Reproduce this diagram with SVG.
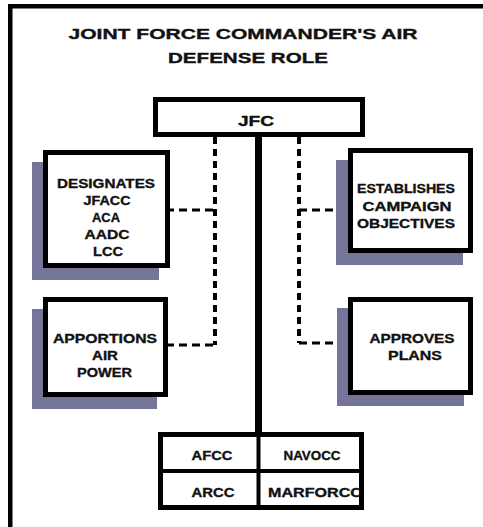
<svg xmlns="http://www.w3.org/2000/svg" width="483" height="527" viewBox="0 0 483 527">
<style>
text{font-family:"Liberation Sans",Arial,sans-serif;font-weight:bold;fill:#111;stroke:#111;stroke-width:0.35;text-anchor:middle}
.t{font-size:15px}
.b{font-size:13px}
.box{fill:#fff;stroke:#000;stroke-width:5}
.sh{fill:#75759a}
.dash{fill:none;stroke:#000;stroke-width:4;stroke-dasharray:7 5}
.hdash{fill:none;stroke:#000;stroke-width:3;stroke-dasharray:8 5}
</style>
<rect width="483" height="527" fill="#fff"/>
<g id="frame">
<rect x="8" y="4" width="475" height="4.5" fill="#000"/>
<rect x="8" y="4" width="4.5" height="523" fill="#000"/>
</g>
<g id="title">
<text class="t" x="243" y="39" textLength="349" lengthAdjust="spacingAndGlyphs">JOINT FORCE COMMANDER'S AIR</text>
<text class="t" x="248" y="63" textLength="160" lengthAdjust="spacingAndGlyphs">DEFENSE ROLE</text>
</g>
<g id="connectors">
<rect x="255" y="135" width="7" height="300" fill="#000"/>
<path class="dash" d="M215,137 V345"/>
<path class="dash" d="M299,137 V343"/>
<path class="hdash" d="M213,210 H170"/>
<path class="hdash" d="M213,345 H168"/>
<path class="hdash" d="M299,210 H340"/>
<path class="hdash" d="M299,343 H340"/>
</g>
<g id="jfc">
<rect class="box" x="155.5" y="99.5" width="207" height="35"/>
<text class="b" x="256" y="126" textLength="36" lengthAdjust="spacingAndGlyphs" style="font-size:14px">JFC</text>
</g>
<g id="designates">
<rect class="sh" x="32" y="162" width="127" height="118"/>
<rect class="box" x="45.5" y="152.5" width="122" height="113"/>
<text class="b" x="106" y="188" textLength="98" lengthAdjust="spacingAndGlyphs">DESIGNATES</text>
<text class="b" x="107" y="205" textLength="47" lengthAdjust="spacingAndGlyphs">JFACC</text>
<text class="b" x="106" y="222" textLength="28" lengthAdjust="spacingAndGlyphs">ACA</text>
<text class="b" x="107" y="239" textLength="45" lengthAdjust="spacingAndGlyphs">AADC</text>
<text class="b" x="108" y="256" textLength="30" lengthAdjust="spacingAndGlyphs">LCC</text>
</g>
<g id="apportions">
<rect class="sh" x="32" y="309" width="125" height="100"/>
<rect class="box" x="45.5" y="299.5" width="120" height="95"/>
<text class="b" x="105" y="343" textLength="104" lengthAdjust="spacingAndGlyphs">APPORTIONS</text>
<text class="b" x="105" y="360" textLength="26" lengthAdjust="spacingAndGlyphs">AIR</text>
<text class="b" x="104.5" y="377" textLength="55" lengthAdjust="spacingAndGlyphs">POWER</text>
</g>
<g id="establishes">
<rect class="sh" x="336" y="160" width="127" height="105"/>
<rect class="box" x="350.5" y="150.5" width="120" height="100"/>
<text class="b" x="406" y="193" textLength="98" lengthAdjust="spacingAndGlyphs">ESTABLISHES</text>
<text class="b" x="407" y="211" textLength="89" lengthAdjust="spacingAndGlyphs">CAMPAIGN</text>
<text class="b" x="406" y="228" textLength="98" lengthAdjust="spacingAndGlyphs">OBJECTIVES</text>
</g>
<g id="approves">
<rect class="sh" x="337" y="308" width="127" height="98"/>
<rect class="box" x="350.5" y="299.5" width="120" height="93"/>
<text class="b" x="412" y="343" textLength="85" lengthAdjust="spacingAndGlyphs">APPROVES</text>
<text class="b" x="415" y="360" textLength="54" lengthAdjust="spacingAndGlyphs">PLANS</text>
</g>
<g id="components">
<rect class="box" x="160.5" y="434.5" width="201" height="73"/>
<line x1="258.5" y1="434" x2="258.5" y2="508" stroke="#000" stroke-width="4"/>
<line x1="160" y1="471" x2="362" y2="471" stroke="#000" stroke-width="4"/>
<text class="b" x="212" y="460" textLength="41" lengthAdjust="spacingAndGlyphs">AFCC</text>
<text class="b" x="312" y="460" textLength="57" lengthAdjust="spacingAndGlyphs">NAVOCC</text>
<text class="b" x="213" y="497" textLength="43" lengthAdjust="spacingAndGlyphs">ARCC</text>
<text class="b" x="315" y="497" textLength="94" lengthAdjust="spacingAndGlyphs">MARFORCC</text>
</g>
</svg>
